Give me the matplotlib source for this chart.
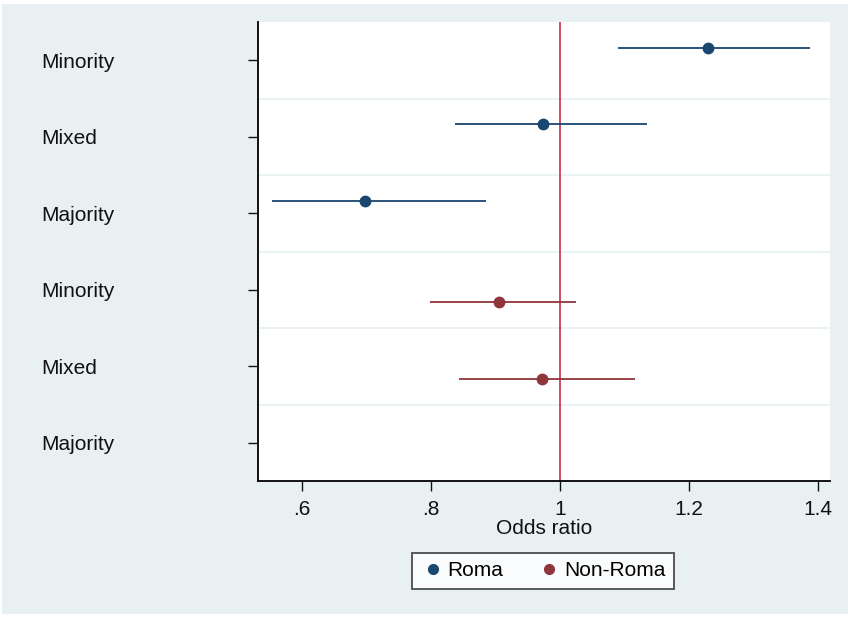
import numpy as np
import matplotlib
matplotlib.use("Agg")
import matplotlib.pyplot as plt
from matplotlib.patches import Rectangle
from matplotlib.lines import Line2D

plt.rcParams['font.family'] = ['Liberation Sans', 'DejaVu Sans']

# ---- data ----
categories = ["Minority", "Mixed", "Majority", "Minority", "Mixed", "Majority"]

roma_or = [1.230, 0.974, 0.698]
roma_lo = [1.090, 0.837, 0.553]
roma_hi = [1.388, 1.135, 0.885]

nonroma_or = [0.905, 0.972, np.nan]
nonroma_lo = [0.799, 0.844, np.nan]
nonroma_hi = [1.025, 1.117, np.nan]

xticks = [0.6, 0.8, 1.0, 1.2, 1.4]
xticklabels = [".6", ".8", "1", "1.2", "1.4"]

navy = "#1a476f"
maroon = "#90353b"
bg = "#e8f0f2"
fs = 15

fig = plt.figure(figsize=(8.48, 6.17), dpi=100, facecolor="white")
fig.patches.append(Rectangle((2 / 848, 3 / 617), 846 / 848, 610 / 617,
                             transform=fig.transFigure, facecolor=bg,
                             edgecolor="none", zorder=-1))

ax = fig.add_axes([258 / 848, 136 / 617, 572 / 848, 459 / 617])
ax.set_facecolor("white")

pos = np.arange(1, len(categories) + 1)
off = 0.165

# grid between the categories
for g in np.arange(1.5, len(categories), 1.0):
    ax.axhline(g, color=bg, lw=1.2, zorder=1)

ax.axvline(1.0, color="#cf3a5c", lw=1.3, zorder=2)

y_roma = pos[:3] - off
ax.hlines(y_roma, roma_lo, roma_hi, color=navy, lw=1.3, zorder=3)
ax.plot(roma_or, y_roma, "o", color=navy, ms=7.5, zorder=4)

y_non = pos[3:] + off
ax.hlines(y_non, nonroma_lo, nonroma_hi, color=maroon, lw=1.3, zorder=3)
ax.plot(nonroma_or, y_non, "o", color=maroon, ms=7.5, zorder=4)

ax.set_ylim(len(categories) + 0.5, 0.5)
ax.set_xlim(0.5315, 1.419)

ax.set_yticks(pos)
ax.set_yticklabels(categories, fontsize=fs, ha="left")
ax.tick_params(axis="y", length=7, width=1, pad=149, colors="#111111")

ax.set_xticks(xticks)
ax.set_xticklabels(xticklabels, fontsize=fs)
ax.tick_params(axis="x", length=7, width=1, pad=7, colors="#111111")
ax.set_xlabel("Odds ratio", fontsize=fs, labelpad=0, color="#111111")

for s in ["top", "right"]:
    ax.spines[s].set_visible(False)
for s in ["left", "bottom"]:
    ax.spines[s].set_linewidth(1.3)

handles = [Line2D([], [], ls="none", marker="o", color=navy, ms=7),
           Line2D([], [], ls="none", marker="o", color=maroon, ms=7)]
leg = fig.legend(handles, ["Roma", "Non-Roma"], loc="center",
                 bbox_to_anchor=(543 / 848, 46 / 617), ncol=2,
                 fontsize=fs, frameon=True, fancybox=False,
                 handletextpad=0.1, columnspacing=1.6, handlelength=1.2,
                 borderpad=0.4)
leg.get_frame().set_edgecolor("#222222")
leg.get_frame().set_linewidth(1.3)

fig.savefig("out.png", dpi=100, facecolor=fig.get_facecolor())
